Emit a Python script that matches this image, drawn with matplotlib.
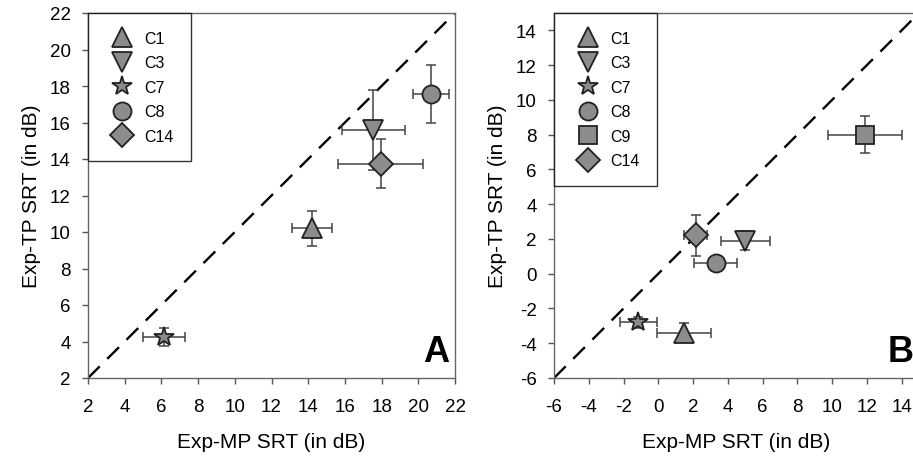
import numpy as np
import matplotlib.pyplot as plt
from matplotlib.lines import Line2D

plt.rcParams['font.family'] = ['Liberation Sans', 'DejaVu Sans']
plt.rcParams['axes.unicode_minus'] = False

# ---------------- data ----------------
# panel A
a_labels = ["C1", "C3", "C7", "C8", "C14"]
a_markers = ["^", "v", "*", "o", "D"]
a_x = [14.2, 17.55, 6.15, 20.7, 17.95]
a_y = [10.2, 15.6, 4.25, 17.55, 13.75]
a_xerr = [1.1, 1.7, 1.15, 1.0, 2.3]
a_yerr = [0.95, 2.2, 0.5, 1.6, 1.35]

# panel B
b_labels = ["C1", "C3", "C7", "C8", "C9", "C14"]
b_markers = ["^", "v", "*", "o", "s", "D"]
b_x = [1.5, 5.0, -1.15, 3.3, 11.9, 2.15]
b_y = [-3.4, 1.9, -2.8, 0.6, 8.0, 2.2]
b_xerr = [1.55, 1.4, 1.05, 1.25, 2.15, 0.67]
b_yerr = [0.55, 0.55, 0.3, 0.0, 1.06, 1.2]

fill = "#8c8c8c"
edge = "#222222"
msize = {"^": 14, "v": 14, "*": 15, "o": 13, "s": 13, "D": 12}


def draw_panel(ax, xs, ys, xe, ye, labels, markers, lim, ticks, letter):
    ax.plot(lim, lim, color="black", lw=1.7, ls=(0, (7, 4.5)), zorder=1)
    for x, y, dx, dy, m in zip(xs, ys, xe, ye, markers):
        ax.errorbar(x, y, xerr=dx, yerr=dy, fmt="none", ecolor="#444444",
                    elinewidth=1.1, capsize=3.5, capthick=1.1, zorder=2)
        ax.plot(x, y, marker=m, ms=msize[m], mfc=fill, mec=edge, mew=1.3,
                ls="none", zorder=3)
    ax.set_xlim(lim)
    ax.set_ylim(lim)
    ax.set_xticks(ticks)
    ax.set_yticks(ticks)
    ax.tick_params(direction="out", length=4.5, width=1, color="#555555",
                   labelsize=13.5)
    ax.tick_params(axis="x", pad=10)
    ax.tick_params(axis="y", pad=8)
    for s in ax.spines.values():
        s.set_color("#666666")
        s.set_linewidth(1.0)
    ax.set_xlabel("Exp-MP SRT (in dB)", fontsize=15, labelpad=12)
    ax.set_ylabel("Exp-TP SRT (in dB)", fontsize=15, labelpad=6)
    ax.text(0.985, 0.025, letter, transform=ax.transAxes, ha="right",
            va="bottom", fontsize=26, fontweight="bold")
    handles = [Line2D([], [], marker=m, ms=msize[m], mfc=fill, mec=edge,
                      mew=1.3, ls="none") for m in markers]
    leg = ax.legend(handles, labels, loc="upper left", fontsize=11.5,
                    frameon=True, fancybox=False, borderaxespad=0,
                    borderpad=1.1, handletextpad=0.3, labelspacing=0.6,
                    handlelength=2.1)
    leg.get_frame().set_edgecolor("black")
    leg.get_frame().set_linewidth(1.0)


fig = plt.figure(figsize=(9.13, 4.64), dpi=100)
ax_a = fig.add_axes([88 / 913, 85 / 464, 367 / 913, 365 / 464])
ax_b = fig.add_axes([554 / 913, 85 / 464, 365 / 913, 365 / 464])

draw_panel(ax_a, a_x, a_y, a_xerr, a_yerr, a_labels, a_markers,
           [2, 22], np.arange(2, 23, 2), "A")
draw_panel(ax_b, b_x, b_y, b_xerr, b_yerr, b_labels, b_markers,
           [-6, 15], np.arange(-6, 15, 2), "B")

fig.savefig("out.png", dpi=100)
